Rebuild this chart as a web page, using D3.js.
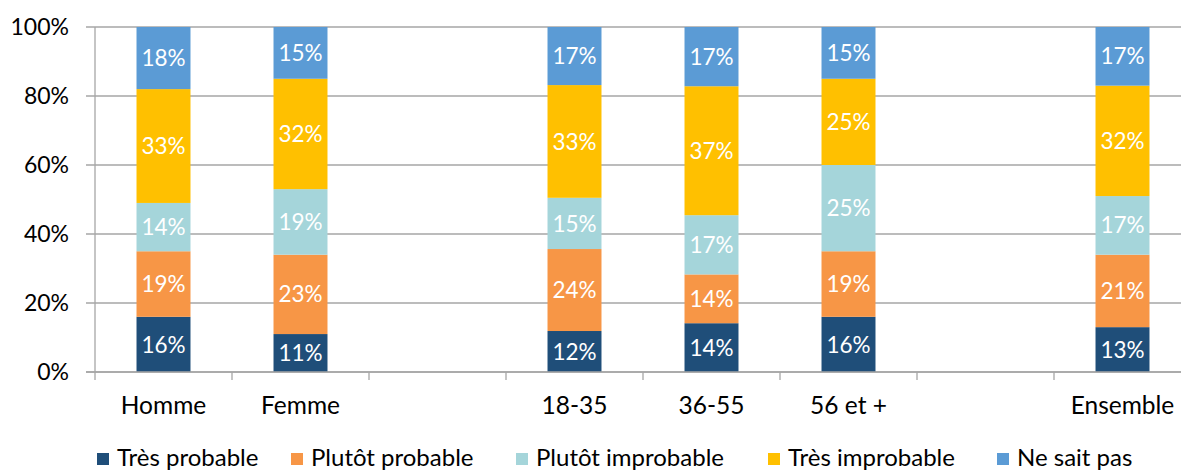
<!DOCTYPE html>
<html><head><meta charset="utf-8">
<script src="https://cdn.jsdelivr.net/npm/d3@7"></script>
<style>body{margin:0;background:#fff}svg{display:block}</style>
</head><body>
<svg id="c" width="1181" height="473"></svg>
<script>
const categories = ["Homme","Femme","gap1","18-35","36-55","56 et +","gap2","Ensemble"];
const categoryLabels = ["Homme","Femme","","18-35","36-55","56 et +","","Ensemble"];
const seriesNames = ["Très probable","Plutôt probable","Plutôt improbable","Très improbable","Ne sait pas"];
const tresProbable     = [16, 11, null, 12, 14, 16, null, 13];
const plutotProbable   = [19, 23, null, 24, 14, 19, null, 21];
const plutotImprobable = [14, 19, null, 15, 17, 25, null, 17];
const tresImprobable   = [33, 32, null, 33, 37, 25, null, 32];
const neSaitPas        = [18, 15, null, 17, 17, 15, null, 17];
const yTicks = [0, 0.2, 0.4, 0.6, 0.8, 1];
const colors = ["#1F4E79","#F79646","#A5D5DA","#FFC000","#5B9BD5"];

const seriesValues = [tresProbable, plutotProbable, plutotImprobable, tresImprobable, neSaitPas];
const rows = categories.map((c,i)=>{
  const r = {cat:c};
  seriesNames.forEach((s,j)=>{ r[s] = seriesValues[j][i] || 0; });
  r.empty = seriesValues[0][i] == null;
  return r;
});

const svg = d3.select("#c");
const font = "Lato, 'Open Sans', sans-serif";
const pLeft = 95, pRight = 1191, pTop = 27, pBottom = 372;

const x = d3.scaleBand().domain(categories).range([pLeft, pRight]).paddingInner(0.606).paddingOuter(0.303);
const xSlot = d3.scaleBand().domain(categories).range([pLeft, pRight]).padding(0);
const y = d3.scaleLinear().domain([0,1]).range([pBottom, pTop]);

// gridlines
svg.append("g").selectAll("line").data(yTicks).join("line")
  .attr("x1", pLeft-9).attr("x2", 1181)
  .attr("y1", d=>y(d)).attr("y2", d=>y(d))
  .attr("stroke", "#A6A6A6").attr("stroke-width", 1.3);
// y axis line
svg.append("line").attr("x1", pLeft).attr("x2", pLeft).attr("y1", pTop).attr("y2", pBottom)
  .attr("stroke", "#A6A6A6").attr("stroke-width", 1.3);
// y tick labels
svg.append("g").selectAll("text").data(yTicks).join("text")
  .attr("x", 69).attr("y", d=>y(d)).attr("dy", "0.35em")
  .attr("text-anchor", "end").attr("font-family", font).attr("font-size", 23).attr("fill", "#000")
  .text(d3.format(".0%"));

// x ticks at slot boundaries
const bounds = categories.map(c=>xSlot(c)).concat([pRight]);
svg.append("g").selectAll("line").data(bounds).join("line")
  .attr("x1", d=>d).attr("x2", d=>d).attr("y1", pBottom).attr("y2", pBottom+8)
  .attr("stroke", "#A6A6A6").attr("stroke-width", 1.3);

// stacks
const stack = d3.stack().keys(seriesNames).offset(d3.stackOffsetExpand);
const stacked = stack(rows.filter(r=>!r.empty));
const g = svg.append("g");
stacked.forEach((layer, j)=>{
  g.append("g").selectAll("rect").data(layer).join("rect")
    .attr("x", d=>x(d.data.cat)).attr("width", x.bandwidth())
    .attr("y", d=>y(d[1])).attr("height", d=>y(d[0])-y(d[1]))
    .attr("fill", colors[j]);
  g.append("g").selectAll("text").data(layer).join("text")
    .attr("x", d=>x(d.data.cat)+x.bandwidth()/2)
    .attr("y", d=>(y(d[0])+y(d[1]))/2).attr("dy","0.36em")
    .attr("text-anchor","middle").attr("font-family", font).attr("font-size", 22.5)
    .attr("fill","#fff")
    .text(d=>d.data[seriesNames[j]] + "%");
});

// x axis line (on top)
svg.append("line").attr("x1", pLeft-9).attr("x2", 1181).attr("y1", pBottom).attr("y2", pBottom)
  .attr("stroke", "#A6A6A6").attr("stroke-width", 1.3);

// category labels
svg.append("g").selectAll("text").data(categories).join("text")
  .attr("x", d=>x(d)+x.bandwidth()/2).attr("y", 414)
  .attr("text-anchor","middle").attr("font-family", font).attr("font-size", 24.5).attr("fill","#000")
  .text((d,i)=>categoryLabels[i]);

// legend
const legendX = [97, 291, 516, 768, 997];
const lg = svg.append("g").selectAll("g").data(seriesNames).join("g")
  .attr("transform", (d,i)=>`translate(${legendX[i]},0)`);
lg.append("rect").attr("x",0).attr("y",453).attr("width",12).attr("height",12)
  .attr("fill",(d,i)=>colors[i]);
lg.append("text").attr("x",20).attr("y",466).attr("font-family",font).attr("font-size",24)
  .attr("fill","#000").text(d=>d);
</script>
</body></html>
